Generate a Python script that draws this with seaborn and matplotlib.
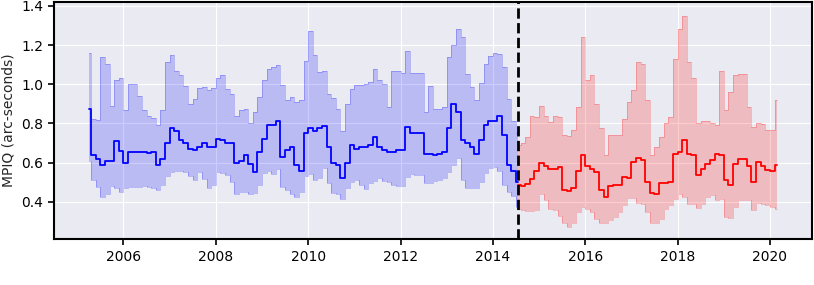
import numpy as np
import seaborn as sns
import matplotlib.pyplot as plt

# time stamps (decimal years), one value every ~0.1 yr
years_pre = np.round(np.arange(2005.25, 2014.551, 0.1), 2)
years_post = np.round(np.arange(2014.55, 2020.151, 0.1), 2)

# median / upper / lower MPIQ before the dashed line
med_pre = [0.876, 0.64, 0.62, 0.59, 0.61, 0.61, 0.71, 0.66, 0.60, 0.655,
           0.655, 0.655, 0.655, 0.65, 0.655, 0.59, 0.62, 0.70, 0.775, 0.76,
           0.715, 0.70, 0.67, 0.665, 0.68, 0.70, 0.68, 0.68, 0.72, 0.715,
           0.70, 0.70, 0.60, 0.61, 0.64, 0.595, 0.55, 0.655, 0.72, 0.79,
           0.79, 0.815, 0.63, 0.665, 0.68, 0.59, 0.56, 0.75, 0.775, 0.76,
           0.775, 0.785, 0.68, 0.60, 0.59, 0.52, 0.60, 0.69, 0.67, 0.68,
           0.68, 0.69, 0.73, 0.68, 0.665, 0.655, 0.655, 0.665, 0.665, 0.78,
           0.75, 0.75, 0.75, 0.645, 0.645, 0.64, 0.645, 0.655, 0.775, 0.90,
           0.86, 0.715, 0.70, 0.68, 0.645, 0.715, 0.79, 0.815, 0.815, 0.84,
           0.74, 0.59, 0.56, 0.50]
upper_pre = [1.16, 0.825, 0.82, 1.14, 1.105, 0.89, 1.02, 1.03, 0.87, 1.0,
             1.0, 0.94, 0.87, 0.84, 0.83, 0.79, 0.87, 1.115, 1.15, 1.07,
             1.05, 0.99, 0.90, 0.925, 0.98, 0.985, 0.97, 0.98, 1.03, 1.05,
             0.975, 0.95, 0.84, 0.87, 0.875, 0.80, 0.86, 0.935, 1.02, 1.08,
             1.09, 1.10, 0.995, 0.92, 0.935, 0.91, 0.92, 1.12, 1.27, 1.15,
             1.065, 1.07, 0.95, 0.93, 0.875, 0.76, 0.90, 0.975, 0.995, 0.995,
             1.0, 1.01, 1.08, 1.02, 1.0, 0.885, 1.07, 1.07, 1.06, 1.17,
             1.06, 1.06, 1.06, 0.86, 0.99, 0.875, 0.875, 0.885, 1.14, 1.20,
             1.28, 1.24, 1.055, 0.985, 0.92, 1.005, 1.105, 1.145, 1.16, 1.155,
             1.09, 0.925, 0.815, 0.75]
lower_pre = [0.61, 0.51, 0.475, 0.425, 0.44, 0.48, 0.47, 0.45, 0.47, 0.475,
             0.475, 0.475, 0.48, 0.475, 0.47, 0.46, 0.485, 0.53, 0.555, 0.56,
             0.56, 0.55, 0.53, 0.51, 0.555, 0.515, 0.47, 0.485, 0.555, 0.545,
             0.535, 0.50, 0.44, 0.45, 0.45, 0.44, 0.445, 0.485, 0.545, 0.56,
             0.54, 0.57, 0.475, 0.46, 0.44, 0.425, 0.45, 0.53, 0.54, 0.51,
             0.52, 0.575, 0.495, 0.445, 0.44, 0.415, 0.47, 0.50, 0.51, 0.485,
             0.465, 0.495, 0.505, 0.52, 0.505, 0.50, 0.485, 0.48, 0.48, 0.525,
             0.54, 0.535, 0.535, 0.495, 0.495, 0.505, 0.51, 0.52, 0.555, 0.59,
             0.625, 0.51, 0.47, 0.47, 0.47, 0.50, 0.545, 0.575, 0.58, 0.56,
             0.485, 0.45, 0.43, 0.375]

# after the dashed line
med_post = [0.485, 0.48, 0.49, 0.515, 0.56, 0.60, 0.585, 0.57, 0.57, 0.58,
            0.46, 0.455, 0.47, 0.56, 0.64, 0.585, 0.57, 0.55, 0.46, 0.425,
            0.48, 0.485, 0.485, 0.525, 0.52, 0.605, 0.625, 0.615, 0.50, 0.445,
            0.44, 0.495, 0.495, 0.50, 0.645, 0.655, 0.715, 0.645, 0.64, 0.535,
            0.57, 0.595, 0.615, 0.645, 0.64, 0.51, 0.485, 0.595, 0.62, 0.62,
            0.585, 0.50, 0.605, 0.585, 0.565, 0.56, 0.59]
upper_post = [0.69, 0.70, 0.73, 0.84, 0.835, 0.89, 0.84, 0.81, 0.84, 0.835,
              0.74, 0.735, 0.765, 0.885, 1.24, 1.02, 1.045, 0.90, 0.775, 0.64,
              0.74, 0.74, 0.74, 0.825, 0.91, 0.97, 1.115, 1.105, 0.92, 0.64,
              0.68, 0.73, 0.80, 0.835, 1.13, 1.28, 1.35, 1.115, 1.03, 0.80,
              0.815, 0.815, 0.80, 0.79, 1.07, 0.87, 0.96, 1.045, 1.055, 1.055,
              0.885, 0.78, 0.80, 0.795, 0.765, 0.765, 0.92]
lower_post = [0.365, 0.357, 0.354, 0.354, 0.36, 0.44, 0.41, 0.365, 0.357, 0.33,
              0.29, 0.27, 0.29, 0.35, 0.375, 0.365, 0.35, 0.315, 0.29, 0.29,
              0.305, 0.325, 0.35, 0.385, 0.42, 0.42, 0.395, 0.39, 0.35, 0.29,
              0.29, 0.315, 0.365, 0.385, 0.415, 0.44, 0.425, 0.39, 0.39, 0.37,
              0.39, 0.425, 0.435, 0.41, 0.415, 0.325, 0.32, 0.375, 0.41, 0.41,
              0.41, 0.36, 0.395, 0.39, 0.385, 0.375, 0.365]

split_year = 2014.55

sns.set_style("darkgrid", {"axes.edgecolor": "black", "xtick.bottom": True,
                           "ytick.left": True, "xtick.color": "black",
                           "ytick.color": "black"})
plt.rcParams["font.family"] = ["DejaVu Sans"]

fig, ax = plt.subplots(figsize=(8.14, 2.85), dpi=100)
fig.subplots_adjust(left=0.066, right=0.9975, top=0.993, bottom=0.161)

segments = [(years_pre, med_pre, upper_pre, lower_pre, "blue"),
            (years_post, med_post, upper_post, lower_post, "red")]
for yrs, med, up, lo, col in segments:
    ax.fill_between(yrs, lo, up, color=col, alpha=0.2, lw=0, step="mid")
    # faint envelope edges
    ax.plot(yrs, up, color=col, lw=0.5, alpha=0.3, drawstyle="steps-mid")
    ax.plot(yrs, lo, color=col, lw=0.5, alpha=0.3, drawstyle="steps-mid")
    sns.lineplot(x=yrs, y=med, color=col, lw=1.3, drawstyle="steps-mid", ax=ax)

ax.axvline(split_year, color="black", ls="--", lw=2)

ax.set_xlim(2004.49, 2020.91)
ax.set_ylim(0.21, 1.42)
ax.set_xticks(range(2006, 2021, 2))
ax.set_xticklabels([str(y) for y in range(2006, 2021, 2)])
ax.set_yticks([0.4, 0.6, 0.8, 1.0, 1.2, 1.4])
ax.set_ylabel("MPIQ (arc-seconds)", fontsize=10)
ax.tick_params(labelsize=10, length=4, width=1.2)
for s in ax.spines.values():
    s.set_linewidth(1.5)

plt.savefig("out.png", dpi=100)
